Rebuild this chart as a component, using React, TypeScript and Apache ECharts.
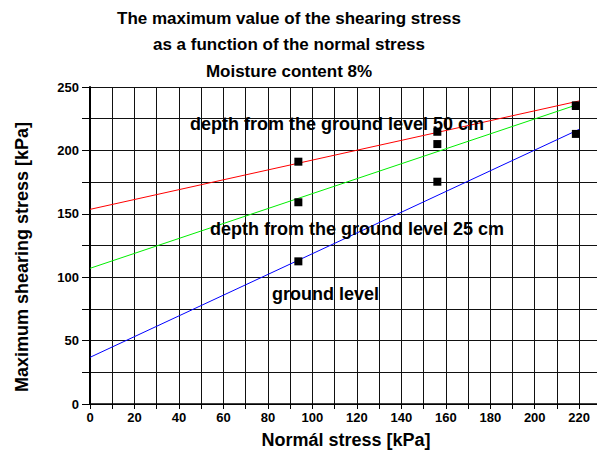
import React, { useEffect, useRef } from "react";
import * as echarts from "echarts";

const titleLines = [
  "The maximum value of the shearing stress",
  "as a function of the normal stress",
  "Moisture content 8%",
];
const xAxisName = "Normál stress [kPa]";
const yAxisName = "Maximum shearing stress [kPa]";

// measured points: [normal stress, shearing stress]
const pointsSurface = [[93.7, 112.5], [156.2, 175.3], [218.5, 213]];
const points25 = [[93.7, 159.1], [156.2, 205], [218.5, 235]];
const points50 = [[93.7, 191.1], [156.2, 214.7], [218.5, 235.5]];

// regression lines (start/end)
const line50 = [[0, 153.5], [220, 239]];
const line25 = [[0, 107], [220, 236.6]];
const lineSurface = [[0, 36.8], [220, 216.6]];

const labelTexts = [
  "depth from the ground level 50 cm",
  "depth from the ground level 25 cm",
  "ground level",
];

const FONT = "Arial, 'Liberation Sans', Helvetica, sans-serif";

export default function App() {
  const ref = useRef<HTMLDivElement>(null);
  useEffect(() => {
    const chart = echarts.init(ref.current!, null, { renderer: "svg" });
    const scatterCommon = {
      type: "scatter",
      symbol: "rect",
      symbolSize: 8,
      itemStyle: { color: "#000", opacity: 1 },
      z: 5,
    };
    const lineCommon = {
      type: "line",
      symbol: "none",
      z: 4,
    };
    chart.setOption({
      animation: false,
      backgroundColor: "#fff",
      textStyle: { fontFamily: FONT },
      grid: { left: 90, top: 87, right: 0, bottom: 55, containLabel: false },
      xAxis: {
        type: "value",
        min: 0,
        max: 228,
        interval: 10,
        axisLine: { show: true, lineStyle: { color: "#000", width: 1.5 } },
        axisTick: { show: true, length: 5, lineStyle: { color: "#000", width: 1 } },
        axisLabel: {
          color: "#000",
          fontWeight: "bold",
          fontSize: 13,
          fontFamily: FONT,
          margin: 7,
          showMaxLabel: false,
          formatter: (v: number) => (v % 20 === 0 && v <= 220 ? String(v) : ""),
        },
        splitLine: { show: true, lineStyle: { color: "#111", width: 1 } },
      },
      yAxis: {
        type: "value",
        min: 0,
        max: 250,
        interval: 25,
        axisLine: { show: true, lineStyle: { color: "#000", width: 2 } },
        axisTick: { show: true, length: 8, lineStyle: { color: "#000", width: 1 } },
        axisLabel: {
          color: "#000",
          fontWeight: "bold",
          fontSize: 13,
          fontFamily: FONT,
          margin: 11,
          formatter: (v: number) => (v % 50 === 0 ? String(v) : ""),
        },
        splitLine: { show: true, lineStyle: { color: "#111", width: 1 } },
      },
      series: [
        { ...lineCommon, data: line50, lineStyle: { color: "#ff0000", width: 1 } },
        { ...lineCommon, data: line25, lineStyle: { color: "#00ee00", width: 1 } },
        { ...lineCommon, data: lineSurface, lineStyle: { color: "#0000ff", width: 1 } },
        { ...scatterCommon, data: points50 },
        { ...scatterCommon, data: points25 },
        { ...scatterCommon, data: pointsSurface },
      ],
      graphic: [
        ...titleLines.map((t, i) => ({
          type: "text",
          x: 289,
          y: 18 + i * 26.5,
          style: {
            text: t,
            fill: "#000",
            font: `bold 17px ${FONT}`,
            textAlign: "center",
            textVerticalAlign: "middle",
          },
        })),
        {
          type: "text",
          x: 346,
          y: 440,
          style: {
            text: xAxisName,
            fill: "#000",
            font: `bold 18px ${FONT}`,
            textAlign: "center",
            textVerticalAlign: "middle",
          },
        },
        {
          type: "text",
          x: 22,
          y: 257,
          rotation: Math.PI / 2,
          style: {
            text: yAxisName,
            fill: "#000",
            font: `bold 18px ${FONT}`,
            textAlign: "center",
            textVerticalAlign: "middle",
          },
        },
        {
          type: "text",
          x: 190,
          y: 124,
          z: 10,
          style: { text: labelTexts[0], fill: "#000", font: `bold 18px ${FONT}`, textVerticalAlign: "middle" },
        },
        {
          type: "text",
          x: 210,
          y: 229,
          z: 10,
          style: { text: labelTexts[1], fill: "#000", font: `bold 18px ${FONT}`, textVerticalAlign: "middle" },
        },
        {
          type: "text",
          x: 272,
          y: 294,
          z: 10,
          style: { text: labelTexts[2], fill: "#000", font: `bold 18px ${FONT}`, textVerticalAlign: "middle" },
        },
      ],
    });
    return () => chart.dispose();
  }, []);
  return (
    <div
      ref={ref}
      style={{ position: "fixed", left: 0, top: 0, width: 597, height: 459, background: "#fff" }}
    />
  );
}
